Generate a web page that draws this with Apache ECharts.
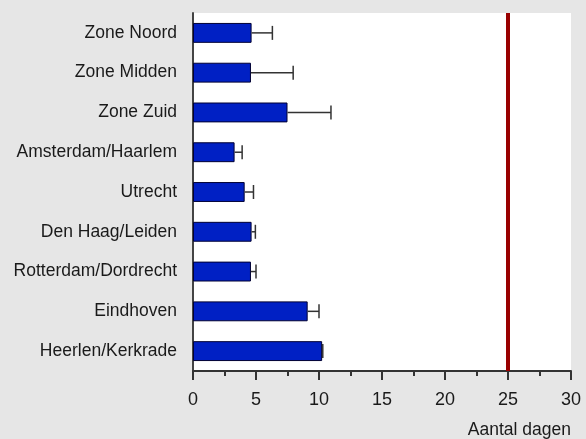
<!DOCTYPE html>
<html>
<head>
<meta charset="utf-8">
<script src="https://cdn.jsdelivr.net/npm/echarts@6/dist/echarts.min.js"></script>
<style>
  html, body { margin: 0; padding: 0; background: #e6e6e6; }
  #chart { width: 586px; height: 439px; }
</style>
</head>
<body>
<div id="chart"></div>
<script>
// Regions, top to bottom
const regions = [
  'Zone Noord', 'Zone Midden', 'Zone Zuid', 'Amsterdam/Haarlem', 'Utrecht',
  'Den Haag/Leiden', 'Rotterdam/Dordrecht', 'Eindhoven', 'Heerlen/Kerkrade'
];
// Mean number of days per region
const meanDays = [4.65, 4.6, 7.5, 3.3, 4.1, 4.65, 4.6, 9.1, 10.25];
// Upper end of the error bar per region
const upperDays = [6.3, 7.95, 10.95, 3.9, 4.8, 4.95, 5.0, 10.0, 10.3];
// Limit value drawn as a vertical line
const limitDays = 25;
const xTicks = [0, 5, 10, 15, 20, 25, 30];

const FONT = "'Liberation Sans', Arial, sans-serif";

const chart = echarts.init(document.getElementById('chart'));

const errorData = regions.map((r, i) => [i, meanDays[i], upperDays[i]]);

chart.setOption({
  backgroundColor: '#e6e6e6',
  animation: false,
  grid: {
    left: 193, right: 15, top: 13, bottom: 68,
    containLabel: false,
    outerBoundsMode: 'none',
    show: true, backgroundColor: '#ffffff', borderWidth: 0
  },
  xAxis: {
    type: 'value',
    min: xTicks[0], max: xTicks[xTicks.length - 1], interval: 5,
    axisLine: { show: true, lineStyle: { color: '#333', width: 2 } },
    axisTick: { show: true, length: 9, lineStyle: { color: '#333', width: 2 } },
    minorTick: { show: true, splitNumber: 2, length: 5, lineStyle: { color: '#333', width: 2 } },
    splitLine: { show: false },
    axisLabel: { fontFamily: FONT, fontSize: 18, color: '#1a1a1a', margin: 20 }
  },
  yAxis: {
    type: 'category',
    data: regions,
    inverse: true,
    axisLine: { show: true, lineStyle: { color: '#444', width: 2 } },
    axisTick: { show: false },
    axisLabel: { fontFamily: FONT, fontSize: 17.5, color: '#1a1a1a', margin: 16 }
  },
  graphic: [{
    type: 'text',
    right: 15, top: 421,
    style: { text: 'Aantal dagen', font: '17.5px ' + FONT, fill: '#1a1a1a' }
  }],
  series: [
    {
      type: 'bar',
      data: meanDays,
      barWidth: '50%',
      itemStyle: { color: '#0020c4', borderColor: '#000033', borderWidth: 1 },
      markLine: {
        silent: true,
        symbol: 'none',
        label: { show: false },
        lineStyle: { color: '#990000', width: 4, type: 'solid' },
        data: [{ xAxis: limitDays }]
      }
    },
    {
      type: 'custom',
      data: errorData,
      z: 3,
      renderItem: function (params, api) {
        const idx = api.value(0);
        const start = api.coord([api.value(1), idx]);
        const end = api.coord([api.value(2), idx]);
        const half = 7;
        const style = { stroke: '#333', lineWidth: 1.5 };
        return {
          type: 'group',
          children: [
            { type: 'line', shape: { x1: start[0], y1: start[1], x2: end[0], y2: end[1] }, style: style },
            { type: 'line', shape: { x1: end[0], y1: end[1] - half, x2: end[0], y2: end[1] + half }, style: style }
          ]
        };
      },
      encode: { x: [1, 2], y: 0 }
    }
  ]
});
</script>
</body>
</html>
